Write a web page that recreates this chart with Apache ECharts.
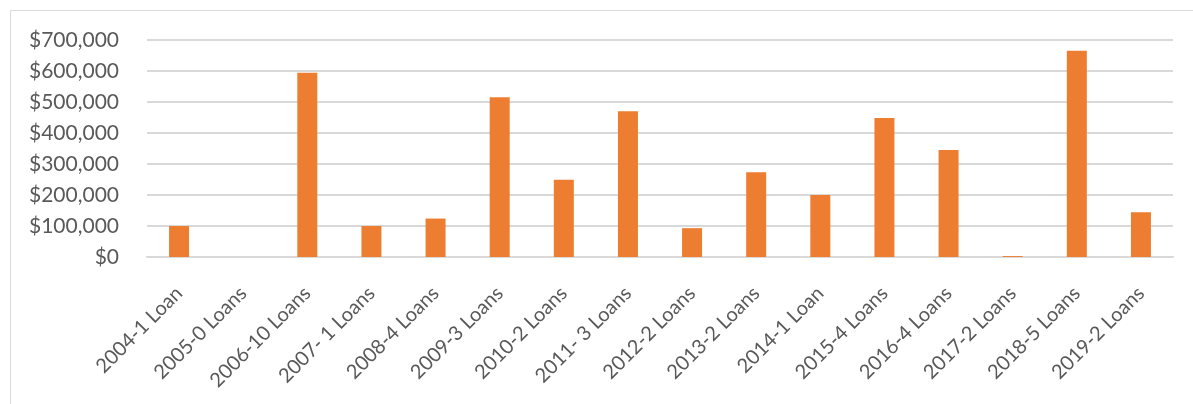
<!DOCTYPE html>
<html>
<head>
<meta charset="utf-8">
<script src="https://cdn.jsdelivr.net/npm/echarts@6/dist/echarts.min.js"></script>
<style>
html,body{margin:0;padding:0;background:#fff;}
#c{width:1193px;height:404px;}
</style>
</head>
<body>
<div id="c"></div>
<script>
const categories = ["2004-1 Loan","2005-0 Loans","2006-10 Loans","2007- 1 Loans","2008-4 Loans","2009-3 Loans","2010-2 Loans","2011- 3 Loans","2012-2 Loans","2013-2 Loans","2014-1 Loan","2015-4 Loans","2016-4 Loans","2017-2 Loans","2018-5 Loans","2019-2 Loans"];
const amounts = [100000,0,594000,100000,124000,515000,249000,470000,93000,273000,200000,448000,345000,3000,665000,144000];
const yTicks = {min:0, max:700000, interval:100000};

const chart = echarts.init(document.getElementById('c'));
chart.setOption({
  animation:false,
  backgroundColor:'#fff',
  graphic:[{type:'rect',shape:{x:10.5,y:10.5,width:1200,height:420},style:{fill:'none',stroke:'#D9D9D9',lineWidth:1},silent:true}],
  grid:{left:147,right:20,top:40,bottom:147,containLabel:false},
  xAxis:{type:'category',data:categories,
    axisLine:{show:true,lineStyle:{color:'#D9D9D9',width:2}},
    axisTick:{show:false},
    axisLabel:{rotate:45,interval:0,color:'#595959',fontFamily:'Lato',fontSize:20,margin:33}
  },
  yAxis:{type:'value',min:yTicks.min,max:yTicks.max,interval:yTicks.interval,
    axisLine:{show:false},axisTick:{show:false},
    splitLine:{lineStyle:{color:'#D9D9D9',width:2}},
    axisLabel:{color:'#595959',fontFamily:'Lato',fontSize:21,margin:28,
      formatter:v=>'$'+v.toLocaleString('en-US')}
  },
  series:[{type:'bar',data:amounts,barWidth:20,itemStyle:{color:'#ED7D31'}}]
});
</script>
</body>
</html>
